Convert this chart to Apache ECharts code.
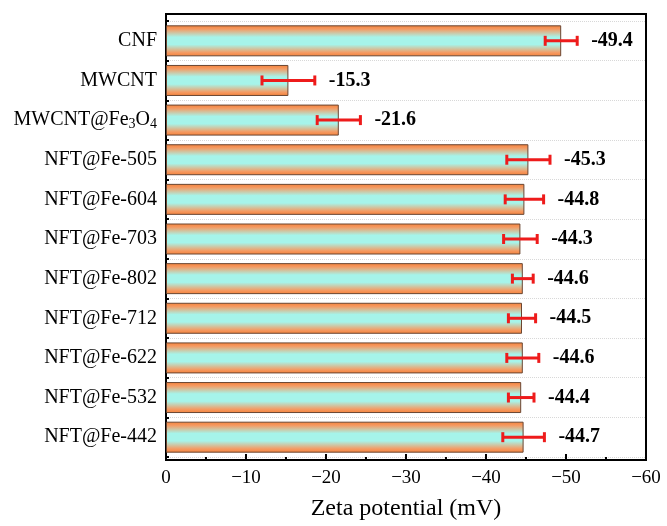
<!DOCTYPE html>
<html>
<head>
<meta charset="utf-8">
<script src="https://cdn.jsdelivr.net/npm/echarts@6/dist/echarts.min.js"></script>
<style>
  html, body { margin: 0; padding: 0; background: #fff; }
  #chart { width: 667px; height: 526px; }
</style>
</head>
<body>
<div id="chart"></div>
<script>
// Samples, top to bottom
const categories = [
  'CNF', 'MWCNT', 'MWCNT@Fe3O4', 'NFT@Fe-505', 'NFT@Fe-604', 'NFT@Fe-703',
  'NFT@Fe-802', 'NFT@Fe-712', 'NFT@Fe-622', 'NFT@Fe-532', 'NFT@Fe-442'
];
// Zeta potential (mV)
const zeta = [-49.4, -15.3, -21.6, -45.3, -44.8, -44.3, -44.6, -44.5, -44.6, -44.4, -44.7];
// Standard deviation (mV)
const zetaErr = [2.0, 3.3, 2.7, 2.7, 2.4, 2.1, 1.3, 1.7, 2.0, 1.6, 2.6];
// X axis range / ticks
const xMin = -60, xMax = 0, xStep = 10;

const serif = '"Liberation Serif", "Times New Roman", serif';

const chart = echarts.init(document.getElementById('chart'), null, { renderer: 'canvas' });

function catLabel(v) {
  if (v === 'MWCNT@Fe3O4') {
    return '{n|MWCNT@Fe}{s|3}{n|O}{s|4}';
  }
  return '{n|' + v + '}';
}

const barGradient = new echarts.graphic.LinearGradient(0, 0, 0, 1, [
  { offset: 0, color: '#f4823a' },
  { offset: 0.12, color: '#f59a62' },
  { offset: 0.38, color: '#a6f4ea' },
  { offset: 0.62, color: '#a6f4ea' },
  { offset: 0.88, color: '#f59a62' },
  { offset: 1, color: '#f4823a' }
]);

const plotLeft = 166, plotRight = 21;

const option = {
  backgroundColor: '#fff',
  animation: false,
  grid: [
    // outer frame with the value axis
    { left: plotLeft, right: plotRight, top: 14, bottom: 60, show: true, borderColor: '#000', borderWidth: 2 },
    // inner area holding the sample bands
    { left: plotLeft, right: plotRight, top: 21, bottom: 69 }
  ],
  xAxis: [
    {
      gridIndex: 0,
      type: 'value',
      min: xMin, max: xMax, interval: xStep,
      inverse: true,
      name: 'Zeta potential (mV)',
      nameLocation: 'middle',
      nameGap: 37,
      nameTextStyle: { fontFamily: serif, fontSize: 24, color: '#000' },
      axisLine: { show: true, lineStyle: { color: '#000', width: 2 } },
      axisTick: { show: true, inside: true, length: 6, lineStyle: { color: '#000', width: 2 } },
      minorTick: { show: true, splitNumber: 2, length: 3, lineStyle: { color: '#000', width: 2 } },
      splitLine: { show: false },
      axisLabel: {
        fontFamily: serif, fontSize: 19, color: '#000', margin: 9,
        formatter: v => (v < 0 ? '\u2212' + Math.abs(v) : String(v))
      }
    },
    {
      gridIndex: 1,
      type: 'value',
      min: xMin, max: xMax, interval: xStep,
      inverse: true,
      show: false
    }
  ],
  yAxis: [
    {
      // left frame line
      gridIndex: 0,
      type: 'value',
      min: 0, max: 1,
      axisLine: { show: true, lineStyle: { color: '#000', width: 2 } },
      axisTick: { show: false },
      axisLabel: { show: false },
      splitLine: { show: false }
    },
    {
      gridIndex: 1,
      type: 'category',
      data: categories,
      inverse: true,
      axisLine: { show: false },
      axisTick: { show: true, inside: true, alignWithLabel: true, length: 6, lineStyle: { color: '#000', width: 2 } },
      splitLine: { show: false },
      axisLabel: {
        margin: 9,
        formatter: catLabel,
        rich: {
          n: { fontFamily: serif, fontSize: 20, color: '#000' },
          s: { fontFamily: serif, fontSize: 14, color: '#000', padding: [9, 0, 0, 0] }
        }
      }
    },
    {
      // boundary ticks and dotted separators between samples
      gridIndex: 1,
      type: 'category',
      data: categories,
      inverse: true,
      position: 'left',
      axisLine: { show: false },
      axisTick: { show: true, inside: true, length: 3, lineStyle: { color: '#000', width: 2 } },
      axisLabel: { show: false },
      splitLine: { show: true, lineStyle: { color: '#d8d8d8', type: 'dotted', width: 1 } }
    }
  ],
  series: [
    {
      type: 'bar',
      data: zeta,
      xAxisIndex: 1,
      yAxisIndex: 1,
      barWidth: 31,
      itemStyle: { color: barGradient, borderColor: '#6a4632', borderWidth: 1 },
      z: 2
    },
    {
      type: 'custom',
      xAxisIndex: 1,
      yAxisIndex: 1,
      data: zeta.map((v, i) => [v, i, zetaErr[i]]),
      encode: { x: 0, y: 1 },
      z: 5,
      renderItem: function (params, api) {
        const v = api.value(0), idx = api.value(1), e = api.value(2);
        const a = api.coord([v - e, idx]);
        const b = api.coord([v + e, idx]);
        const x1 = Math.min(a[0], b[0]), x2 = Math.max(a[0], b[0]);
        const y = a[1];
        const cap = 5;
        const red = { stroke: '#ee1b1b', lineWidth: 3 };
        return {
          type: 'group',
          children: [
            { type: 'line', shape: { x1: x1, y1: y, x2: x2, y2: y }, style: red },
            { type: 'line', shape: { x1: x1, y1: y - cap, x2: x1, y2: y + cap }, style: red },
            { type: 'line', shape: { x1: x2, y1: y - cap, x2: x2, y2: y + cap }, style: red },
            {
              type: 'text',
              style: {
                x: x2 + 14, y: y,
                text: v.toFixed(1),
                font: 'bold 20px ' + serif,
                fill: '#000',
                textAlign: 'left',
                textVerticalAlign: 'middle'
              }
            }
          ]
        };
      }
    }
  ]
};

chart.setOption(option);
</script>
</body>
</html>
